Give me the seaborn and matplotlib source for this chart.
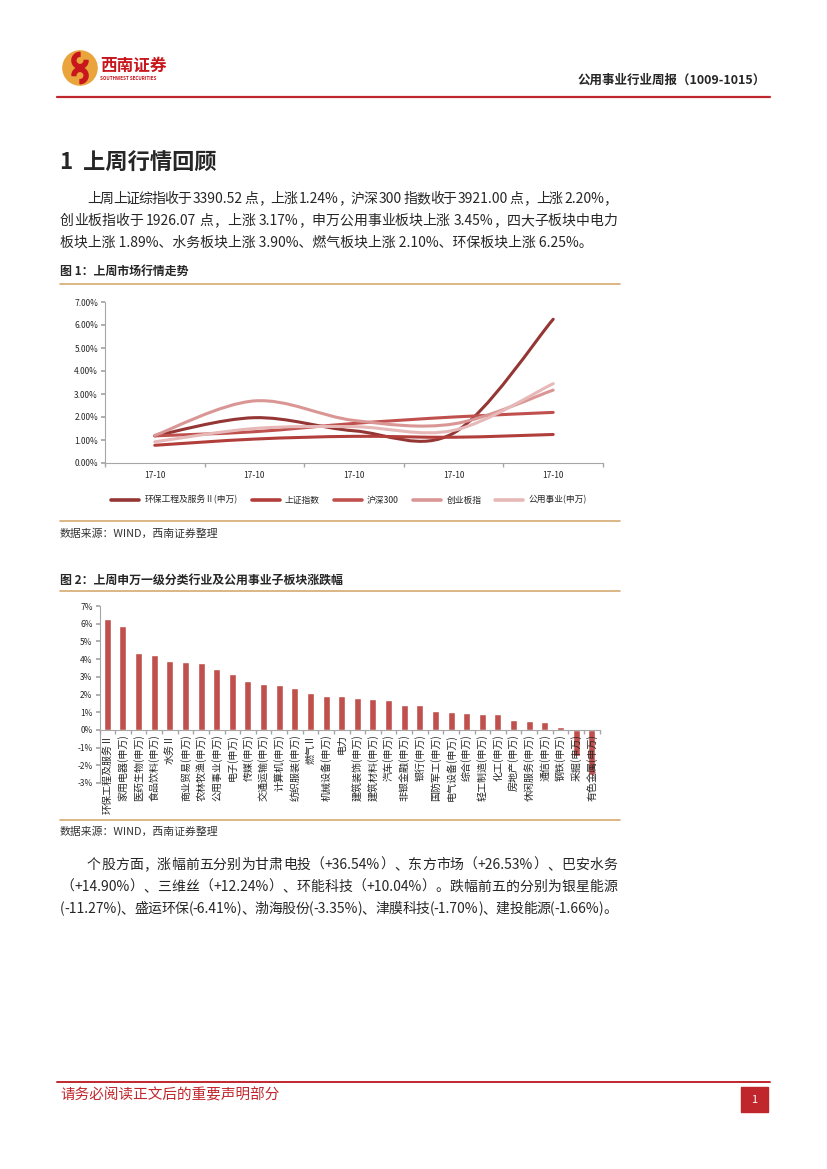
import re
import matplotlib
matplotlib.use('Agg')
import matplotlib.pyplot as plt
from matplotlib.path import Path
from matplotlib.patches import PathPatch, Circle, Wedge, Rectangle
from matplotlib.lines import Line2D
import numpy as np
import pandas as pd
import seaborn as sns

# page is drawn in pixel coordinates (827 x 1169 at dpi 100)
W, H = 827, 1169

# figure 1 : cumulative moves of last week (%)
days = ['17-10', '17-10', '17-10', '17-10', '17-10']
hbgc = [1.18, 1.97, 1.40, 1.30, 6.25]      # 环保工程及服务Ⅱ(申万)
szzs = [0.77, 1.04, 1.16, 1.12, 1.24]      # 上证指数
hs300 = [1.18, 1.36, 1.72, 2.00, 2.20]     # 沪深300
cybz = [1.20, 2.70, 1.85, 1.70, 3.17]      # 创业板指
gysy = [0.92, 1.50, 1.58, 1.42, 3.45]      # 公用事业(申万)
line_names = ['环保工程及服务Ⅱ(申万)', '上证指数', '沪深300', '创业板指', '公用事业(申万)']
line_colors = ['#943634', '#B13E3B', '#C0504D', '#D99694', '#E6B9B8']

# figure 2 : weekly change by industry (%)
industries = ['环保工程及服务Ⅱ', '家用电器(申万)', '医药生物(申万)', '食品饮料(申万)', '水务Ⅱ',
              '商业贸易(申万)', '农林牧渔(申万)', '公用事业(申万)', '电子(申万)', '传媒(申万)',
              '交通运输(申万)', '计算机(申万)', '纺织服装(申万)', '燃气Ⅱ', '机械设备(申万)', '电力',
              '建筑装饰(申万)', '建筑材料(申万)', '汽车(申万)', '非银金融(申万)', '银行(申万)',
              '国防军工(申万)', '电气设备(申万)', '综合(申万)', '轻工制造(申万)', '化工(申万)',
              '房地产(申万)', '休闲服务(申万)', '通信(申万)', '钢铁(申万)', '采掘(申万)', '有色金属(申万)']
changes = [6.25, 5.86, 4.35, 4.22, 3.90, 3.84, 3.80, 3.45, 3.18, 2.78, 2.57, 2.51, 2.38, 2.10,
           1.93, 1.89, 1.81, 1.76, 1.70, 1.42, 1.40, 1.08, 1.02, 0.93, 0.91, 0.91, 0.57, 0.51,
           0.45, 0.19, -1.47, -2.55]

para1 = ['上周上证综指收于 3390.52 点，上涨 1.24%，沪深 300 指数收于 3921.00 点，上涨 2.20%，',
         '创业板指收于 1926.07 点，上涨 3.17%，申万公用事业板块上涨 3.45%，四大子板块中电力',
         '板块上涨 1.89%、水务板块上涨 3.90%、燃气板块上涨 2.10%、环保板块上涨 6.25%。']
para2 = ['个股方面，涨幅前五分别为甘肃电投（+36.54%）、东方市场（+26.53%）、巴安水务',
         '（+14.90%）、三维丝（+12.24%）、环能科技（+10.04%）。跌幅前五的分别为银星能源',
         '(-11.27%)、盛运环保(-6.41%)、渤海股份(-3.35%)、津膜科技(-1.70%)、建投能源(-1.66%)。']

sns.set_theme(style='white')
plt.rcParams['font.family'] = ['Noto Sans CJK SC', 'DejaVu Sans']
plt.rcParams['axes.unicode_minus'] = False

fig = plt.figure(figsize=(W / 100, H / 100), dpi=100)
red = '#C0272D'
tan = '#D6AA72'
grey = '#A6A6A6'
body = 10


def fx(x):
    return x / W


def fy(y):
    return 1 - y / H


def box(l, t, r, b):
    return [l / W, 1 - b / H, (r - l) / W, (b - t) / H]


tok_re = re.compile(r'[A-Za-z0-9.%+\-]+| |.')


def put_line(x0, x1, y, s, size, **kw):
    # spread the tokens so the line fills x0..x1 (justified text)
    r = fig.canvas.get_renderer()
    items = []
    for t in tok_re.findall(s):
        if t == ' ':
            items.append((None, size * 100 / 72 * 0.25))
            continue
        txt = fig.text(fx(x0), fy(y), t, fontsize=size, va='center', ha='left', **kw)
        items.append((txt, txt.get_window_extent(r).width))
    total = sum(w for _, w in items)
    gap = (x1 - x0 - total) / (len(items) - 1)
    x = x0
    for txt, w in items:
        if txt is not None:
            txt.set_x(fx(x))
        x += w + gap


# ---- header ----
logo = fig.add_axes(box(62, 50, 98, 86))
logo.set_aspect('equal')
logo.set_xlim(-1, 1)
logo.set_ylim(-1, 1)
logo.axis('off')
logo.add_patch(Circle((0, 0), 0.95, color='#E9A43C'))
logo.add_patch(Wedge((0, 0.42), 0.45, 90, 360, width=0.22, color='#C8161D'))
logo.add_patch(Wedge((0, -0.42), 0.45, 270, 180, width=0.22, color='#C8161D'))
fig.text(fx(100), fy(66), '西南证券', fontsize=12, color='#C8161D', fontweight='bold', va='center')
fig.text(fx(100), fy(79), 'SOUTHWEST SECURITIES', fontsize=3.3, color='#C8161D',
         fontweight='bold', va='center')
fig.text(fx(766), fy(80), '公用事业行业周报（1009-1015）', fontsize=9, fontweight='bold',
         ha='right', va='center')
fig.add_artist(Line2D([fx(57), fx(770)], [fy(97), fy(97)], color=red, lw=1.6))

# ---- section 1 text ----
fig.text(fx(60), fy(163), '1  上周行情回顾', fontsize=16, fontweight='bold', va='center')
put_line(87, 617, 199, para1[0], body)
put_line(60, 617, 221, para1[1], body)
fig.text(fx(60), fy(243), para1[2], fontsize=body, va='center')

# ---- figure 1 ----
fig.text(fx(60), fy(271), '图 1：上周市场行情走势', fontsize=8.6, fontweight='bold', va='center')
fig.add_artist(Line2D([fx(60), fx(620)], [fy(284), fy(284)], color=tan, lw=1.2))
fig.add_artist(Line2D([fx(60), fx(620)], [fy(521), fy(521)], color=tan, lw=1.2))
fig.text(fx(60), fy(534), '数据来源：WIND，西南证券整理', fontsize=7.8, style='italic',
         color='#333333', va='center')


def smooth_path(ys):
    # excel style smoothed line through the points
    pts = list(enumerate(ys))
    n = len(pts)
    verts = [pts[0]]
    codes = [Path.MOVETO]
    for i in range(n - 1):
        p0, p1 = pts[max(i - 1, 0)], pts[i]
        p2, p3 = pts[i + 1], pts[min(i + 2, n - 1)]
        c1 = (p1[0] + (p2[0] - p0[0]) / 6, p1[1] + (p2[1] - p0[1]) / 6)
        c2 = (p2[0] - (p3[0] - p1[0]) / 6, p2[1] - (p3[1] - p1[1]) / 6)
        verts += [c1, c2, p2]
        codes += [Path.CURVE4] * 3
    return Path(verts, codes)


axl = fig.add_axes(box(105, 302, 603, 463))
series = [hbgc, szzs, hs300, cybz, gysy]
for ys, c in zip(series, line_colors):
    axl.add_patch(PathPatch(smooth_path(ys), facecolor='none', edgecolor=c, lw=2.2,
                            capstyle='round'))
axl.set_xlim(-0.5, 4.5)
axl.set_ylim(0, 7)
axl.set_xticks(range(len(days)))
axl.set_xticklabels(days)
axl.set_xticks(np.arange(-0.5, 5, 1), minor=True)
axl.set_yticks(range(8))
axl.set_yticklabels(['%.2f%%' % v for v in range(8)])
axl.tick_params(axis='x', which='major', length=0, labelsize=6, pad=6)
axl.tick_params(axis='x', which='minor', length=3, color=grey, bottom=True)
axl.tick_params(axis='y', length=3, color=grey, left=True, labelsize=6, pad=2)
for s in ['top', 'right']:
    axl.spines[s].set_visible(False)
for s in ['left', 'bottom']:
    axl.spines[s].set_color(grey)
    axl.spines[s].set_linewidth(0.8)
handles = [Line2D([], [], color=c, lw=2.6) for c in line_colors]
axl.legend(handles, line_names, loc='center', bbox_to_anchor=(0.49, -37 / 161), ncol=5,
           frameon=False, fontsize=6.3, handlelength=3.2, handletextpad=0.6, columnspacing=1.6)

# ---- figure 2 ----
fig.text(fx(60), fy(580), '图 2：上周申万一级分类行业及公用事业子板块涨跌幅', fontsize=8.6,
         fontweight='bold', va='center')
fig.add_artist(Line2D([fx(60), fx(620)], [fy(591), fy(591)], color=tan, lw=1.2))
fig.add_artist(Line2D([fx(60), fx(620)], [fy(820), fy(820)], color=tan, lw=1.2))
fig.text(fx(60), fy(832), '数据来源：WIND，西南证券整理', fontsize=7.8, style='italic',
         color='#333333', va='center')

axb = fig.add_axes(box(99.5, 606, 599.5, 783))
df = pd.DataFrame({'industry': industries, 'change': changes})
sns.barplot(data=df, x='industry', y='change', color='#C0504D', saturation=1, width=0.45,
            ax=axb)
axb.set_axisbelow(False)
axb.set_xlim(-0.5, len(industries) - 0.5)
axb.set_ylim(-3, 7)
axb.set_xlabel('')
axb.set_ylabel('')
axb.set_yticks(range(-3, 8))
axb.set_yticklabels(['%d%%' % v for v in range(-3, 8)])
axb.set_xticks(range(len(industries)))
axb.set_xticklabels(industries)
axb.set_xticks(np.arange(-0.5, len(industries), 1), minor=True)
axb.tick_params(axis='x', which='major', length=0, labelsize=7.2, pad=3, labelrotation=90)
axb.tick_params(axis='x', which='minor', length=3, color=grey, bottom=True)
axb.tick_params(axis='y', length=3, color=grey, left=True, labelsize=6, pad=2)
axb.spines['bottom'].set_position(('data', 0))
for s in ['top', 'right']:
    axb.spines[s].set_visible(False)
for s in ['left', 'bottom']:
    axb.spines[s].set_color(grey)
    axb.spines[s].set_linewidth(0.8)

# ---- section 2 text ----
put_line(87, 617, 865, para2[0], body)
put_line(60, 617, 887, para2[1], body)
put_line(60, 617, 909, para2[2], body)

# ---- footer ----
fig.add_artist(Line2D([fx(57), fx(770)], [fy(1082), fy(1082)], color=red, lw=1.4))
fig.text(fx(60), fy(1095), '请务必阅读正文后的重要声明部分', fontsize=10.5, color=red, va='center')
fig.add_artist(Rectangle((fx(741), fy(1112)), 27 / W, 25 / H, transform=fig.transFigure,
                         color=red))
fig.text(fx(754.5), fy(1100), '1', fontsize=8, color='white', ha='center', va='center')

fig.savefig('out.png', dpi=100, facecolor='white')
